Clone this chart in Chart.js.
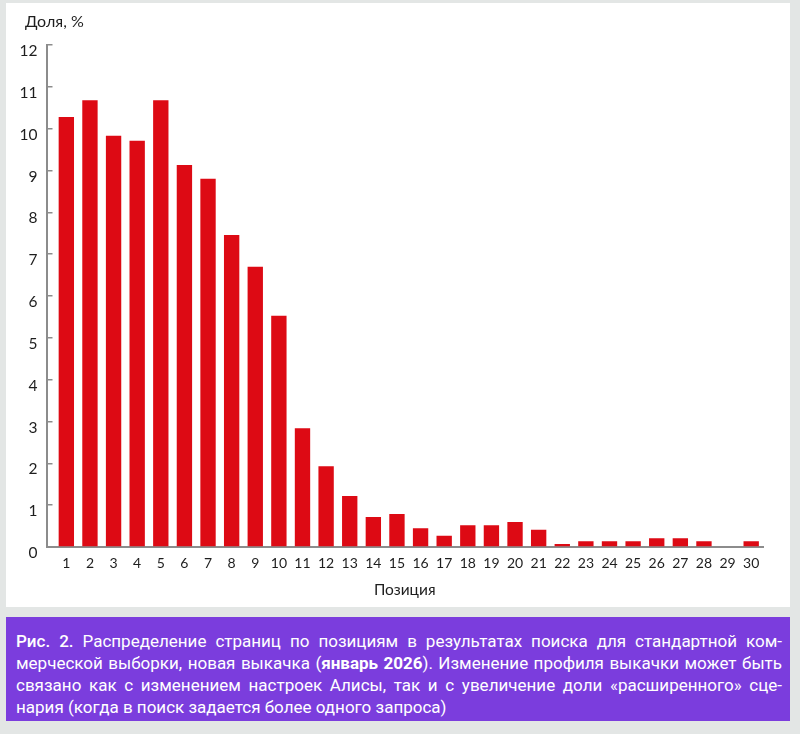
<!DOCTYPE html>
<html lang="ru">
<head>
    <meta charset="UTF-8">
    <title>Распределение страниц по позициям</title>
    <script src="https://cdn.jsdelivr.net/npm/chart.js"></script>
    <style>
        body {
            margin: 0;
            background: #e3e6e5;
            width: 800px;
            height: 734px;
            position: relative;
            overflow: hidden;
        }
        #chart-panel {
            position: absolute;
            left: 6px;
            top: 3px;
            width: 784px;
            height: 604px;
            background: #ffffff;
        }
        #caption {
            position: absolute;
            left: 6px;
            top: 617px;
            width: 784px;
            height: 104px;
            box-sizing: border-box;
            padding: 13px 8px 0 10px;
            background: #7b3ddd;
            color: #ffffff;
            font-family: Roboto, "Noto Sans", sans-serif;
            font-size: 17px;
            line-height: 22px;
        }
        #caption .line {
            text-align: justify;
            text-align-last: justify;
            white-space: nowrap;
        }
        #caption .line.last {
            text-align-last: left;
        }
        #caption .fig { font-weight: 500; }
        #caption b { font-weight: 700; }
    </style>
</head>
<body>

<div id="chart-panel">
    <canvas id="posChart" width="784" height="604"></canvas>
</div>

<div id="caption">
    <div class="line"><span class="fig">Рис. 2.</span> Распределение страниц по позициям в результатах поиска для стандартной ком-</div>
    <div class="line">мерческой выборки, новая выкачка (<b>январь 2026</b>). Изменение профиля выкачки может быть</div>
    <div class="line">связано как с изменением настроек Алисы, так и с увеличение доли «расширенного» сце-</div>
    <div class="line last">нария (когда в поиск задается более одного запроса)</div>
</div>

<script>
    // positions in search results
    const positions = [1, 2, 3, 4, 5, 6, 7, 8, 9, 10, 11, 12, 13, 14, 15,
                       16, 17, 18, 19, 20, 21, 22, 23, 24, 25, 26, 27, 28, 29, 30];
    // share of pages, %
    const shares = [10.28, 10.68, 9.83, 9.71, 10.68, 9.13, 8.8, 7.46, 6.7, 5.53,
                    2.84, 1.93, 1.22, 0.72, 0.79, 0.45, 0.27, 0.52, 0.52, 0.6,
                    0.41, 0.07, 0.14, 0.14, 0.14, 0.21, 0.21, 0.14, 0, 0.14];
    const yTicks = [0, 1, 2, 3, 4, 5, 6, 7, 8, 9, 10, 11, 12];
    const yTitle = 'Доля, %';
    const xTitle = 'Позиция';

    const axisColor = '#8c8c8c';
    const textColor = '#1e1e1e';
    const chartFont = 'Lato, "Open Sans", sans-serif';

    // "Доля, %" sits above the y axis, left of the plot
    const yTitlePlugin = {
        id: 'yTitle',
        afterDraw(chart) {
            const c = chart.ctx;
            c.save();
            c.fillStyle = textColor;
            c.font = '16px ' + chartFont;
            c.textAlign = 'left';
            c.textBaseline = 'middle';
            c.fillText(yTitle, chart.chartArea.left - 21.5, 18.5);
            c.restore();
        }
    };

    const ctx = document.getElementById('posChart').getContext('2d');
    const posChart = new Chart(ctx, {
        type: 'bar',
        data: {
            datasets: [{
                data: positions.map((p, i) => ({ x: p, y: shares[i] })),
                backgroundColor: '#dd0a14',
                borderWidth: 0,
                categoryPercentage: 1,
                barPercentage: 0.65
            }]
        },
        plugins: [yTitlePlugin],
        options: {
            responsive: false,
            animation: false,
            layout: {
                padding: { left: 0, right: 27, top: 42, bottom: 8 }
            },
            plugins: {
                legend: { display: false },
                tooltip: { enabled: false },
                title: { display: false }
            },
            scales: {
                x: {
                    type: 'linear',
                    min: 0.16,
                    max: 30.5,
                    offset: false,
                    grid: { display: false, drawTicks: false },
                    border: { color: axisColor, width: 2 },
                    afterBuildTicks: (axis) => {
                        axis.ticks = positions.map(v => ({ value: v }));
                    },
                    afterFit: (axis) => { axis.height = 52; },
                    ticks: {
                        autoSkip: false,
                        maxRotation: 0,
                        padding: 8,
                        color: textColor,
                        font: { family: chartFont, size: 14 }
                    },
                    title: {
                        display: true,
                        text: xTitle,
                        color: textColor,
                        font: { family: chartFont, size: 15.5 },
                        padding: 0
                    }
                },
                y: {
                    min: 0,
                    max: 12,
                    // short tick marks pointing into the plot
                    grid: {
                        display: true,
                        drawOnChartArea: false,
                        drawTicks: true,
                        tickLength: -6,
                        color: axisColor,
                        lineWidth: 1.5
                    },
                    border: { color: axisColor, width: 2 },
                    afterBuildTicks: (axis) => {
                        axis.ticks = yTicks.map(v => ({ value: v }));
                    },
                    afterFit: (axis) => { axis.width = 40.5; },
                    ticks: {
                        padding: 15,
                        labelOffset: 6,
                        color: textColor,
                        font: { family: chartFont, size: 15.5 }
                    }
                }
            }
        }
    });
</script>

</body>
</html>
